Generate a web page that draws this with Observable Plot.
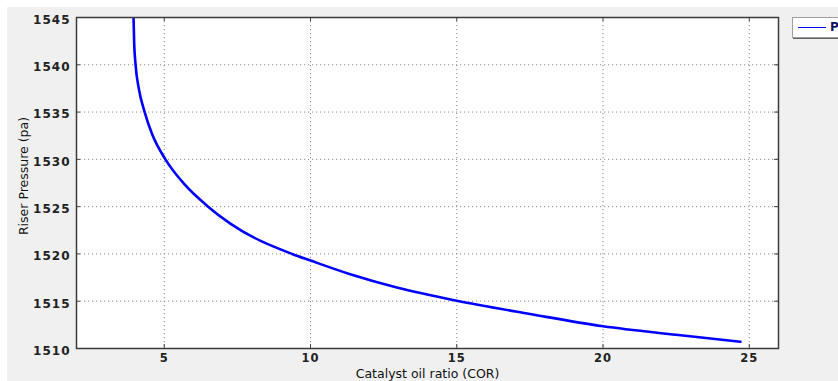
<!DOCTYPE html>
<html>
<head>
<meta charset="utf-8">
<script src="https://cdn.jsdelivr.net/npm/d3@7"></script>
<script src="https://cdn.jsdelivr.net/npm/@observablehq/plot@0.6"></script>
<style>
  html, body { margin: 0; padding: 0; background: #ffffff; }
  #wrap { position: relative; width: 838px; height: 381px; overflow: hidden; }
  #panel { position: absolute; left: 7px; top: 7px; right: 0; bottom: 0; background: #f0f0f0; }
  #chart { position: absolute; left: 0; top: 0; }
  #chart g[aria-label="x-axis tick label"],
  #chart g[aria-label="y-axis tick label"] { letter-spacing: 1px; }
  #chart g[aria-label="x-axis title"] { letter-spacing: 1.6px; }
  #chart g[aria-label="y-axis title"] { letter-spacing: 0.7px; }
  #legend {
    position: absolute; left: 792px; top: 17px; width: 60px; height: 19px;
    background: #ffffff; border: 1px solid #a0a0a0;
    box-shadow: 1px 1px 0 #606060;
    font: bold 12px "DejaVu Sans", sans-serif; color: #101060;
  }
  #legend .sw { position: absolute; left: 5px; top: 9px; width: 28px; height: 0; border-top: 1px solid #0000ff; }
  #legend .lb { position: absolute; left: 37px; top: 2px; }
</style>
</head>
<body>
<div id="wrap">
  <div id="panel"></div>
  <div id="chart"></div>
  <div id="legend"><div class="sw"></div><div class="lb">P</div></div>
</div>
<script>
// Catalyst-to-oil ratio (COR) and the resulting riser pressure (pa)
const cor      = [3.95, 3.97, 4.02, 4.13, 4.33, 4.58, 5.04, 5.68, 6.50, 7.26, 9.37, 10.0, 11.36, 12.95, 15.0, 17.5, 20.0, 22.5, 24.7];
const pressure = [1545, 1542.5, 1540, 1537.5, 1535, 1532.7, 1530, 1527.4, 1525, 1523.2, 1520, 1519.3, 1517.85, 1516.45, 1515.05, 1513.65, 1512.35, 1511.45, 1510.72];

const xTicks = [5, 10, 15, 20, 25];
const yTicks = [1510, 1515, 1520, 1525, 1530, 1535, 1540, 1545];

const xTitle = "Catalyst oil ratio (COR)";
const yTitle = "Riser Pressure (pa)";

const rows = cor.map((c, i) => ({cor: c, p: pressure[i]}));

const innerH = 381 - 17 - 33;
const innerW = 838 - 76 - 60;

const chart = Plot.plot({
  width: 838,
  height: 381,
  marginLeft: 76,
  marginRight: 60,
  marginTop: 17,
  marginBottom: 33,
  style: {background: "transparent", fontFamily: "DejaVu Sans, sans-serif"},
  x: {domain: [2, 26]},
  y: {domain: [1510, 1545]},
  marks: [
    Plot.frame({fill: "#ffffff", stroke: "none"}),
    Plot.gridX(xTicks, {stroke: "#8a8a8a", strokeOpacity: 1, strokeDasharray: "1.2,2.8"}),
    Plot.gridY(yTicks, {stroke: "#8a8a8a", strokeOpacity: 1, strokeDasharray: "1.2,2.8"}),
    // small inward tick marks along all four edges
    Plot.tickX(xTicks, {x: d => d, stroke: "#404040", insetBottom: innerH - 4}),
    Plot.tickX(xTicks, {x: d => d, stroke: "#404040", insetTop: innerH - 4}),
    Plot.tickY(yTicks, {y: d => d, stroke: "#404040", insetRight: innerW - 4}),
    Plot.tickY(yTicks, {y: d => d, stroke: "#404040", insetLeft: innerW - 4}),
    Plot.line(rows, {x: "cor", y: "p", stroke: "#0000ff", strokeWidth: 2.6, curve: "monotone-x", clip: true}),
    Plot.frame({stroke: "#3a3a3a", strokeWidth: 1.5}),
    Plot.axisX(xTicks, {
      tickSize: 0, tickPadding: 5, fontSize: 11.5, fontWeight: "bold", fill: "#222", label: null
    }),
    Plot.axisY(yTicks, {
      tickSize: 0, tickPadding: 6, dy: 2.5, fontSize: 12, fontWeight: "bold", fill: "#222",
      tickFormat: d => String(d), label: null
    }),
    // axis titles
    Plot.text([xTitle], {
      frameAnchor: "bottom", lineAnchor: "middle", dy: 25, fontSize: 12.5, fill: "#111",
      text: d => d, ariaLabel: "x-axis title"
    }),
    Plot.text([yTitle], {
      frameAnchor: "left", textAnchor: "middle", dx: -53, dy: -7, rotate: -90,
      fontSize: 12.5, fill: "#111", text: d => d, ariaLabel: "y-axis title"
    })
  ]
});

document.getElementById("chart").appendChild(chart);
</script>
</body>
</html>
